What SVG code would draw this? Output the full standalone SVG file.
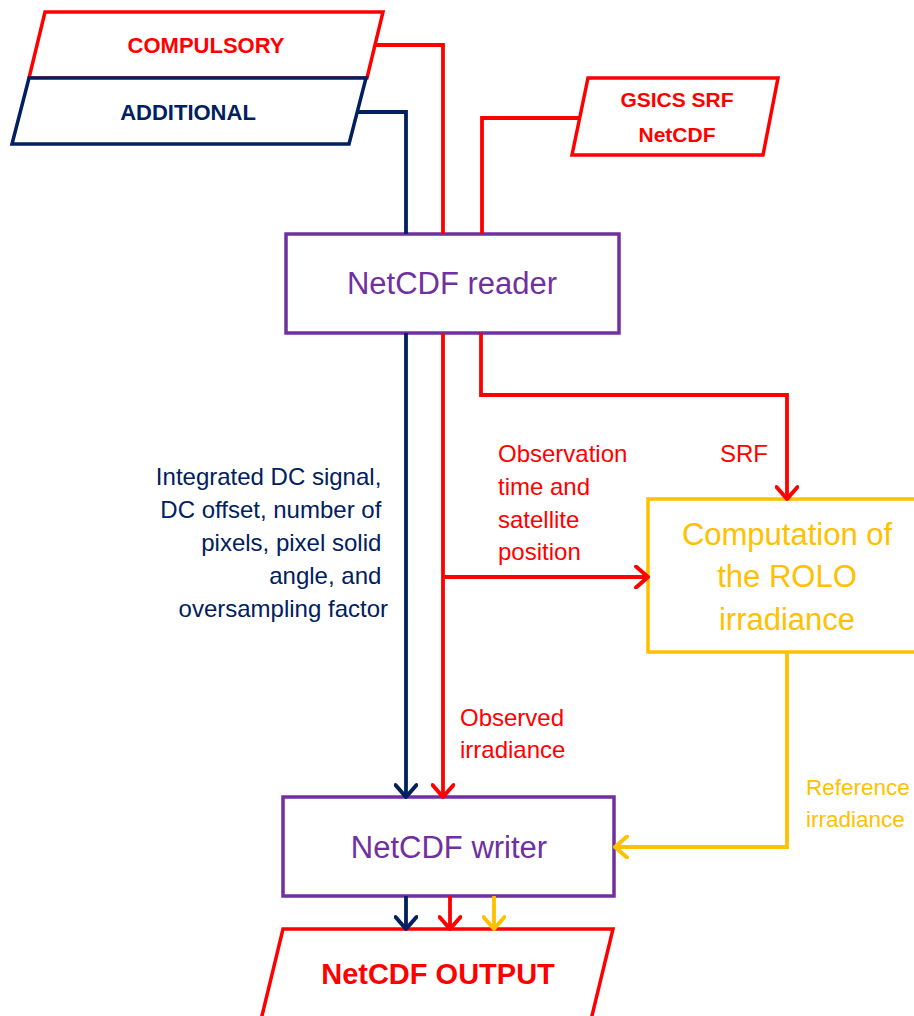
<svg xmlns="http://www.w3.org/2000/svg" width="914" height="1016" viewBox="0 0 914 1016">
<style>
text{font-family:"Liberation Sans",Arial,sans-serif}
.b{font-weight:bold}
.red{fill:#FF0000}
.navy{fill:#002060}
.pur{fill:#7030A0}
.yel{fill:#FFC000}
.c{fill:none;stroke-width:3.8;stroke-linejoin:miter}
.box{fill:#ffffff;stroke-width:3.5}
</style>
<defs>
<marker id="aR" viewBox="0 0 24 24" refX="19" refY="12" markerWidth="24" markerHeight="24" markerUnits="userSpaceOnUse" orient="auto"><path d="M7,1.5 L19,12 L7,22.5" fill="none" stroke="#FF0000" stroke-width="4" stroke-linecap="round" stroke-linejoin="round"/></marker>
<marker id="aN" viewBox="0 0 24 24" refX="19" refY="12" markerWidth="24" markerHeight="24" markerUnits="userSpaceOnUse" orient="auto"><path d="M7,1.5 L19,12 L7,22.5" fill="none" stroke="#002060" stroke-width="4" stroke-linecap="round" stroke-linejoin="round"/></marker>
<marker id="aY" viewBox="0 0 24 24" refX="19" refY="12" markerWidth="24" markerHeight="24" markerUnits="userSpaceOnUse" orient="auto"><path d="M7,1.5 L19,12 L7,22.5" fill="none" stroke="#FFC000" stroke-width="4" stroke-linecap="round" stroke-linejoin="round"/></marker>
</defs>
<g id="compulsory">
<polygon points="45,12 383,12 367,78 29,78" class="box" stroke="#FF0000"/>
<text x="206" y="53" font-size="22" text-anchor="middle" class="b red">COMPULSORY</text>
</g>
<g id="additional">
<polygon points="29,78 366,78 349,144 12,144" class="box" stroke="#002060"/>
<text x="188" y="120" font-size="22" text-anchor="middle" class="b navy">ADDITIONAL</text>
</g>
<g id="gsics">
<polygon points="588,78 778,78 763,155 572,155" class="box" stroke="#FF0000"/>
<text x="677" y="107" font-size="21" text-anchor="middle" class="b red">GSICS SRF</text>
<text x="677" y="142" font-size="21" text-anchor="middle" class="b red">NetCDF</text>
</g>
<g id="reader">
<rect x="286" y="234" width="333" height="99" class="box" stroke="#7030A0"/>
<text x="452" y="294" font-size="31" text-anchor="middle" class="pur">NetCDF reader</text>
</g>
<g id="rolo">
<rect x="648" y="499" width="280" height="153" class="box" stroke="#FFC000"/>
<text x="787" y="545" font-size="31" text-anchor="middle" class="yel">Computation of</text>
<text x="787" y="587" font-size="31" text-anchor="middle" class="yel">the ROLO</text>
<text x="787" y="630" font-size="31" text-anchor="middle" class="yel">irradiance</text>
</g>
<g id="writer">
<rect x="283" y="797" width="331" height="99" class="box" stroke="#7030A0"/>
<text x="449" y="858" font-size="31" text-anchor="middle" class="pur">NetCDF writer</text>
</g>
<g id="output">
<polygon points="283,929 613,929 590,1024 260,1024" class="box" stroke="#FF0000"/>
<text x="438" y="984" font-size="29" text-anchor="middle" class="b red">NetCDF OUTPUT</text>
</g>
<g id="connectors">
<path d="M375,45 H443 V234" class="c" stroke="#FF0000"/>
<path d="M357,112 H406 V234" class="c" stroke="#002060" stroke-width="3.2"/>
<path d="M580,118 H482 V234" class="c" stroke="#FF0000"/>
<path d="M406,333 V797" class="c" stroke="#002060" stroke-width="3.2" marker-end="url(#aN)"/>
<path d="M443,333 V797" class="c" stroke="#FF0000" marker-end="url(#aR)"/>
<path d="M443,577 H648" class="c" stroke="#FF0000" marker-end="url(#aR)"/>
<path d="M481,333 V395 H787 V499" class="c" stroke="#FF0000" marker-end="url(#aR)"/>
<path d="M787,652 V847 H615" class="c" stroke="#FFC000" marker-end="url(#aY)"/>
<path d="M406,896 V929" class="c" stroke="#002060" marker-end="url(#aN)"/>
<path d="M450,896 V929" class="c" stroke="#FF0000" marker-end="url(#aR)"/>
<path d="M494,896 V929" class="c" stroke="#FFC000" marker-end="url(#aY)"/>
</g>
<g id="labels">
<text font-size="24" text-anchor="end" class="navy">
<tspan x="388" y="485">Integrated DC signal,</tspan>
<tspan x="388" y="518">DC offset, number of</tspan>
<tspan x="388" y="551">pixels, pixel solid</tspan>
<tspan x="388" y="584">angle, and</tspan>
<tspan x="388" y="617">oversampling factor</tspan>
</text>
<text font-size="24" class="red">
<tspan x="498" y="462">Observation</tspan>
<tspan x="498" y="495">time and</tspan>
<tspan x="498" y="528">satellite</tspan>
<tspan x="498" y="560">position</tspan>
</text>
<text x="768" y="462" font-size="24" text-anchor="end" class="red">SRF</text>
<text font-size="24" class="red">
<tspan x="460" y="726">Observed</tspan>
<tspan x="460" y="758">irradiance</tspan>
</text>
<text font-size="22.5" class="yel">
<tspan x="806" y="795">Reference</tspan>
<tspan x="806" y="827">irradiance</tspan>
</text>
</g>
</svg>
